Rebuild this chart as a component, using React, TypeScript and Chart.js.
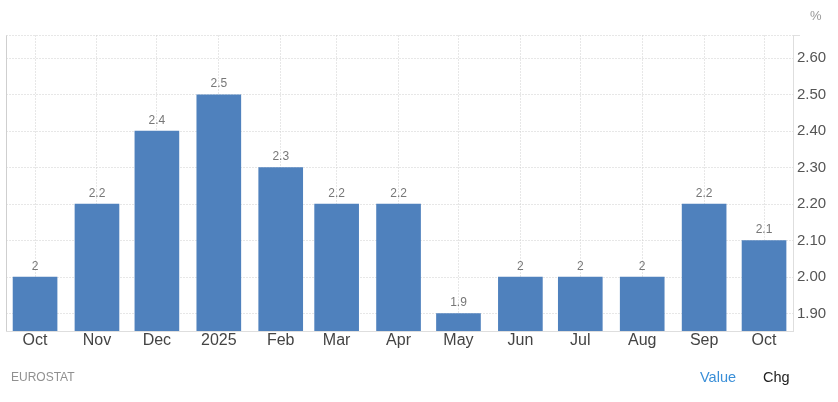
import React, { useEffect, useRef } from "react";
import { Chart, registerables } from "chart.js";

Chart.register(...registerables);

const tickLabels = ["Oct", "Nov", "Dec", "2025", "Feb", "Mar", "Apr", "May", "Jun", "Jul", "Aug", "Sep", "Oct"];
const dayOffsets = [0, 31, 61, 92, 123, 151, 182, 212, 243, 273, 304, 335, 365];
const values = [2, 2.2, 2.4, 2.5, 2.3, 2.2, 2.2, 1.9, 2, 2, 2, 2.2, 2.1];
const yTicks = [1.9, 2.0, 2.1, 2.2, 2.3, 2.4, 2.5, 2.6];
const unit = "%";
const source = "EUROSTAT";
const switches = ["Value", "Chg"];

const X_MIN = -14.3;
const X_MAX = 379.5;
const Y_MIN = 1.852;
const Y_MAX = 2.6625;
const FONT = "'Liberation Sans', Arial, sans-serif";

const barLabels = {
  id: "barLabels",
  afterDatasetsDraw(chart: any) {
    const { ctx, scales } = chart;
    ctx.save();
    ctx.font = `12px ${FONT}`;
    ctx.fillStyle = "#777777";
    ctx.textAlign = "center";
    ctx.textBaseline = "alphabetic";
    values.forEach((v, i) => {
      ctx.fillText(String(v), scales.x.getPixelForValue(dayOffsets[i]), scales.y.getPixelForValue(v) - 7.5);
    });
    ctx.restore();
  },
};

export default function App() {
  const ref = useRef<HTMLCanvasElement | null>(null);

  useEffect(() => {
    const chart = new Chart(ref.current as HTMLCanvasElement, {
      type: "bar",
      data: {
        datasets: [
          {
            data: dayOffsets.map((x, i) => ({ x, y: values[i] })),
            backgroundColor: "#4f81bd",
            borderWidth: 0,
            barThickness: 44,
          },
        ],
      },
      plugins: [barLabels],
      options: {
        responsive: false,
        animation: false,
        layout: { padding: { left: 6.5, top: 35.5, right: 0, bottom: 0 } },
        plugins: { legend: { display: false }, tooltip: { enabled: false }, title: { display: false } },
        scales: {
          x: {
            type: "linear",
            min: X_MIN,
            max: X_MAX,
            offset: false,
            afterBuildTicks: (s: any) => {
              s.ticks = [{ value: X_MIN }, ...dayOffsets.map((value) => ({ value }))];
            },
            afterFit: (s: any) => {
              s.height = 71;
            },
            ticks: {
              autoSkip: false,
              maxRotation: 0,
              padding: 0,
              color: "#444444",
              font: { family: FONT, size: 16 },
              callback: (v: any) => {
                const i = dayOffsets.indexOf(v);
                return i < 0 ? "" : tickLabels[i];
              },
            },
            grid: {
              offset: false,
              drawTicks: false,
              lineWidth: 1,
              color: "#cfcfcf",
            },
            border: {
              display: true,
              color: "#dedede",
              dash: (c: any) => (c.tick && c.tick.value === X_MIN ? [] : [1, 2]),
            },
          },
          y: {
            type: "linear",
            position: "right",
            min: Y_MIN,
            max: Y_MAX,
            afterBuildTicks: (s: any) => {
              s.ticks = [...yTicks.map((value) => ({ value })), { value: Y_MAX }];
            },
            afterFit: (s: any) => {
              s.width = 45;
            },
            ticks: {
              padding: -3,
              color: "#555555",
              font: { family: FONT, size: 15 },
              callback: (v: any) => (v === Y_MAX ? "" : Number(v).toFixed(2)),
            },
            grid: {
              drawTicks: true,
              tickLength: 7,
              lineWidth: 1,
              color: "#cfcfcf",
              tickColor: (c: any) => (c.tick && c.tick.value === Y_MAX ? "#e0e0e0" : "rgba(0,0,0,0)"),
            },
            border: { display: true, color: "#dedede", dash: [1, 2] },
          },
        },
      },
    } as any);
    return () => chart.destroy();
  }, []);

  const text = (s: string, style: React.CSSProperties) => (
    <span style={{ position: "absolute", fontFamily: FONT, lineHeight: "16px", whiteSpace: "nowrap", ...style }}>{s}</span>
  );

  return (
    <div style={{ position: "fixed", left: 0, top: 0, width: 838, height: 402, background: "#fff", overflow: "hidden" }}>
      <canvas ref={ref} width={838} height={402} style={{ display: "block" }} />
      {text(unit, { left: 810, top: 8, fontSize: 13, color: "#999999" })}
      {text(source, { left: 11, top: 369, fontSize: 12, color: "#909090" })}
      {text(switches[0], { left: 700, top: 369, fontSize: 14.5, color: "#3a8fd8" })}
      {text(switches[1], { left: 763, top: 369, fontSize: 14.5, color: "#222222" })}
    </div>
  );
}
